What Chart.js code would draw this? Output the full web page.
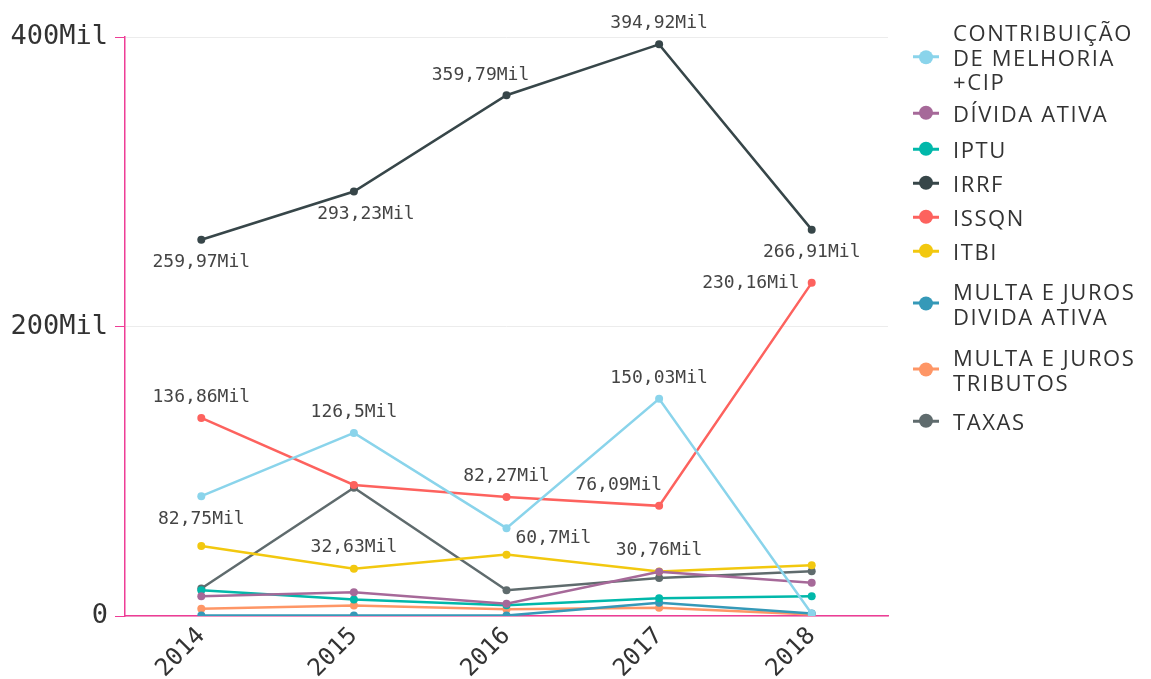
<!DOCTYPE html>
<html>
<head>
<meta charset="utf-8">
<script src="https://cdn.jsdelivr.net/npm/chart.js@4.4.1/dist/chart.umd.min.js"></script>
<style>
  html, body { margin: 0; padding: 0; background: #fff; }
  #wrap { position: relative; width: 1151px; height: 679px; overflow: hidden; }
  #legend { position: absolute; left: 0; top: 0; width: 1151px; height: 679px; pointer-events: none; }
  .item { position: absolute; left: 913px; display: flex; align-items: center; transform: translateY(-50%);
          font-family: "Open Sans", sans-serif; font-size: 22px; line-height: 24.5px; color: #333; letter-spacing: 1.6px; }
  .mark { position: relative; width: 26px; height: 14px; margin-right: 14px; flex: none; }
  .mark .ln { position: absolute; left: 0; top: 5.5px; width: 26px; height: 3px; }
  .mark .dt { position: absolute; left: 6px; top: 0; width: 14px; height: 14px; border-radius: 50%; }
</style>
</head>
<body>
<div id="wrap">
  <canvas id="chart" width="1151" height="679"></canvas>
  <div id="legend"></div>
</div>
<script>
// values in thousands (Mil)
const years = ['2014', '2015', '2016', '2017', '2018'];
const contribuicao = [82.75, 126.5, 60.7, 150.03, 1.5];
const dividaAtiva = [13.7, 16.4, 8.4, 30.5, 22.9];
const iptu = [17.8, 11.4, 7.5, 12.3, 13.7];
const irrf = [259.97, 293.23, 359.79, 394.92, 266.91];
const issqn = [136.86, 90.5, 82.27, 76.09, 230.16];
const itbi = [48.4, 32.63, 42.4, 30.76, 35.0];
const multaDivida = [0.3, 0.3, 0.3, 9.1, 1.7];
const multaTributos = [5.0, 7.2, 4.6, 5.7, 1.0];
const taxas = [19.0, 88.6, 17.8, 26.3, 30.9];
const yTicks = [0, 200, 400];

const PINK = '#ee3d96';
const series = [
  { name: ['CONTRIBUIÇÃO', 'DE MELHORIA', '+CIP'], data: contribuicao, color: '#8AD4EB' },
  { name: ['DÍVIDA ATIVA'], data: dividaAtiva, color: '#A66999' },
  { name: ['IPTU'], data: iptu, color: '#01B8AA' },
  { name: ['IRRF'], data: irrf, color: '#374649' },
  { name: ['ISSQN'], data: issqn, color: '#FD625E' },
  { name: ['ITBI'], data: itbi, color: '#F2C80F' },
  { name: ['MULTA E JUROS', 'DIVIDA ATIVA'], data: multaDivida, color: '#3599B8' },
  { name: ['MULTA E JUROS', 'TRIBUTOS'], data: multaTributos, color: '#FE9666' },
  { name: ['TAXAS'], data: taxas, color: '#5F6B6D' }
];

// which points carry a value label, and where it sits relative to the point
const pointLabels = [
  { s: 3, i: 0, pos: 'below' }, { s: 3, i: 1, pos: 'belowRight' }, { s: 3, i: 2, pos: 'aboveLeft' },
  { s: 3, i: 3, pos: 'above' }, { s: 3, i: 4, pos: 'below' },
  { s: 4, i: 0, pos: 'above' }, { s: 4, i: 2, pos: 'above' }, { s: 4, i: 3, pos: 'aboveEnd' }, { s: 4, i: 4, pos: 'left' },
  { s: 0, i: 0, pos: 'below' }, { s: 0, i: 1, pos: 'above' }, { s: 0, i: 2, pos: 'right' }, { s: 0, i: 3, pos: 'above' },
  { s: 5, i: 1, pos: 'above' }, { s: 5, i: 3, pos: 'above' }
];
const legendY = [57, 113, 149, 183, 217, 251, 303, 369, 421];

function fmt(v) {
  return String(v).replace('.', ',') + 'Mil';
}

const labelPlugin = {
  id: 'pointLabels',
  afterDatasetsDraw(chart) {
    const ctx = chart.ctx;
    ctx.save();
    ctx.font = '18px "DejaVu Sans Mono"';
    ctx.fillStyle = '#444';
    ctx.textBaseline = 'middle';
    pointLabels.forEach(l => {
      const pt = chart.getDatasetMeta(l.s).data[l.i];
      const txt = fmt(series[l.s].data[l.i]);
      let x = pt.x, y = pt.y;
      ctx.textAlign = 'center';
      if (l.pos === 'above') y -= 21;
      else if (l.pos === 'below') y += 23;
      else if (l.pos === 'belowRight') { x += 12; y += 23; }
      else if (l.pos === 'aboveLeft') { x -= 26; y -= 20; }
      else if (l.pos === 'aboveEnd') { ctx.textAlign = 'right'; x += 3; y -= 21; }
      else if (l.pos === 'left') { ctx.textAlign = 'right'; x -= 12; }
      else if (l.pos === 'right') { ctx.textAlign = 'left'; x += 9; y += 10; }
      ctx.fillText(txt, x, y);
    });
    ctx.restore();
  }
};

new Chart(document.getElementById('chart'), {
  type: 'line',
  data: {
    labels: years,
    datasets: series.map(s => ({
      label: s.name.join(' '),
      data: s.data,
      borderColor: s.color,
      backgroundColor: s.color,
      borderWidth: 2.5,
      pointRadius: 4,
      pointBorderWidth: 0,
      tension: 0
    }))
  },
  options: {
    responsive: false,
    animation: false,
    layout: { padding: { top: 37, right: 263, left: 0, bottom: 0 } },
    plugins: { legend: { display: false }, tooltip: { enabled: false } },
    scales: {
      x: {
        offset: true,
        grid: { display: false, drawTicks: false },
        border: { color: PINK, width: 1.5 },
        ticks: {
          minRotation: 45, maxRotation: 45, padding: 6,
          color: '#333', font: { family: 'DejaVu Sans Mono', size: 24 }
        },
        afterFit(scale) { scale.height = 63; }
      },
      y: {
        min: 0, max: 400,
        afterBuildTicks(scale) { scale.ticks = yTicks.map(v => ({ value: v })); },
        grid: { color: '#ececec', tickColor: PINK, tickLength: 10, lineWidth: 1 },
        border: { color: PINK, width: 1.5 },
        ticks: {
          padding: 7, color: '#333',
          font: { family: 'DejaVu Sans Mono', size: 27 },
          callback: v => v === 0 ? '0' : v + 'Mil'
        },
        afterFit(scale) { scale.width = 125; }
      }
    }
  },
  plugins: [labelPlugin]
});

// legend
const legend = document.getElementById('legend');
series.forEach((s, k) => {
  const item = document.createElement('div');
  item.className = 'item';
  item.style.top = legendY[k] + 'px';
  item.innerHTML = '<div class="mark"><div class="ln" style="background:' + s.color + '"></div>' +
    '<div class="dt" style="background:' + s.color + '"></div></div><div>' + s.name.join('<br>') + '</div>';
  legend.appendChild(item);
});
</script>
</body>
</html>
